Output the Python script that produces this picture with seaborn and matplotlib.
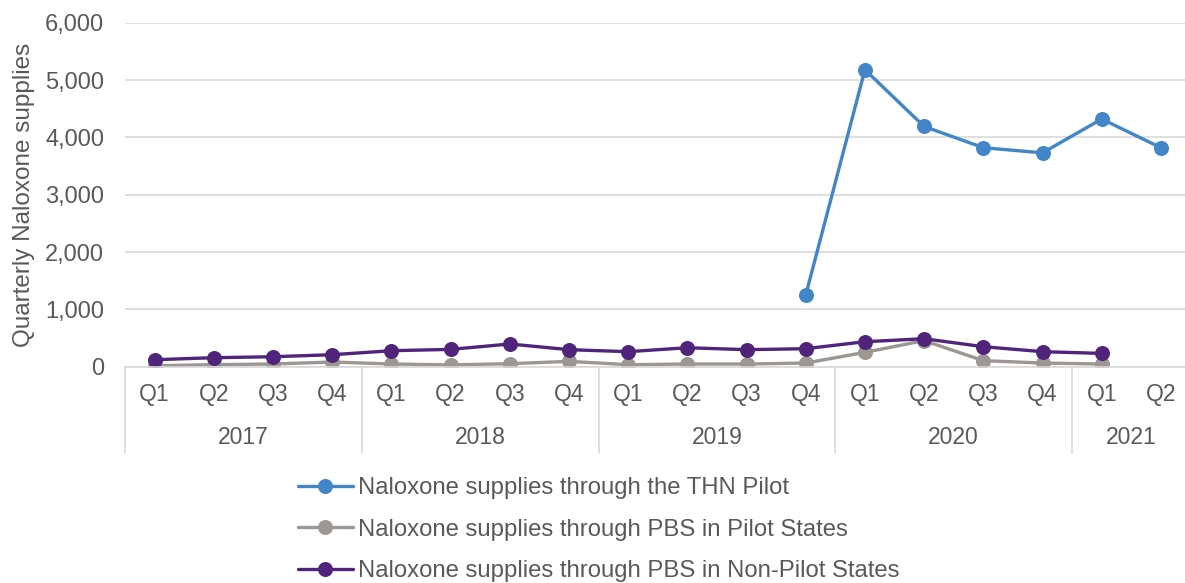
import numpy as np
import pandas as pd
import matplotlib
matplotlib.use("Agg")
import matplotlib.pyplot as plt
import matplotlib.ticker as mticker
import seaborn as sns

# data
years = ["2017", "2018", "2019", "2020", "2021"]
quarters_per_year = [4, 4, 4, 4, 2]
quarter_labels = ["Q1", "Q2", "Q3", "Q4"] * 4 + ["Q1", "Q2"]

thn_pilot = [np.nan] * 11 + [1250, 5180, 4190, 3820, 3730, 4320, 3820]
pbs_pilot = [17, 35, 47, 82, 47, 32, 52, 93, 35, 47, 47, 64, 250, 455, 105, 64, 47, np.nan]
pbs_non_pilot = [122, 157, 174, 209, 279, 302, 396, 297, 262, 331, 297, 314, 436, 488, 349, 262, 232, np.nan]

series_names = ["Naloxone supplies through the THN Pilot",
                "Naloxone supplies through PBS in Pilot States",
                "Naloxone supplies through PBS in Non-Pilot States"]
series_colors = ["#4286c8", "#9c9793", "#50247a"]

sns.set_theme(style="white")
plt.rcParams["font.family"] = ["Liberation Sans", "DejaVu Sans"]
text_col = "#595959"
grid_col = "#d9d9d9"

fig = plt.figure(figsize=[11.85, 5.83], dpi=100)
ax = fig.add_axes([125 / 1185, 1 - 366.7 / 583, (1190.5 - 125) / 1185, 344 / 583])

idx = np.arange(len(quarter_labels))
for name, vals, col in zip(series_names, [thn_pilot, pbs_pilot, pbs_non_pilot], series_colors):
    df = pd.DataFrame({"x": idx, "y": vals}).dropna()
    sns.lineplot(data=df, x="x", y="y", ax=ax, color=col, linewidth=2.4,
                 marker="o", markersize=10.8, markeredgewidth=0, label=name)

ax.set_xlim(-0.5, len(quarter_labels) - 0.5)
ax.set_ylim(0, 6000)
ax.yaxis.set_major_locator(mticker.MultipleLocator(1000))
ax.yaxis.set_major_formatter(mticker.StrMethodFormatter("{x:,.0f}"))
ax.tick_params(axis="y", length=0, labelsize=17, labelcolor=text_col, pad=15)
ax.set_xticks([])
ax.set_xlabel("")
ax.set_ylabel("Quarterly Naloxone supplies", fontsize=17.5, color=text_col, labelpad=7)
ax.grid(axis="y", color=grid_col, linewidth=1.2)
for s in ["top", "right", "left"]:
    ax.spines[s].set_visible(False)
ax.spines["bottom"].set_color(grid_col)
ax.spines["bottom"].set_linewidth(1.2)

# two-level category axis
trans = ax.get_xaxis_transform()
for i, q in enumerate(quarter_labels):
    ax.text(i, -0.082, q, transform=trans, ha="center", va="center",
            fontsize=16.5, color=text_col)
edges = np.concatenate([[0], np.cumsum(quarters_per_year)]) - 0.5
for e in edges:
    ax.plot([e, e], [0, -0.251], transform=trans, color=grid_col,
            linewidth=1.2, clip_on=False)
for y, a, b in zip(years, edges[:-1], edges[1:]):
    ax.text((a + b) / 2, -0.205, y, transform=trans, ha="center", va="center",
            fontsize=16.5, color=text_col)

ax.get_legend().remove()
handles, labels = ax.get_legend_handles_labels()
leg = fig.legend(handles, labels, loc="upper left",
                 bbox_to_anchor=(298 / 1185, 1 - 477 / 583), frameon=False,
                 fontsize=17.2, handlelength=2.3, handletextpad=0.2,
                 labelspacing=0.82, borderpad=0, borderaxespad=0)
for t in leg.get_texts():
    t.set_color(text_col)

plt.savefig("out.png", dpi=100)
